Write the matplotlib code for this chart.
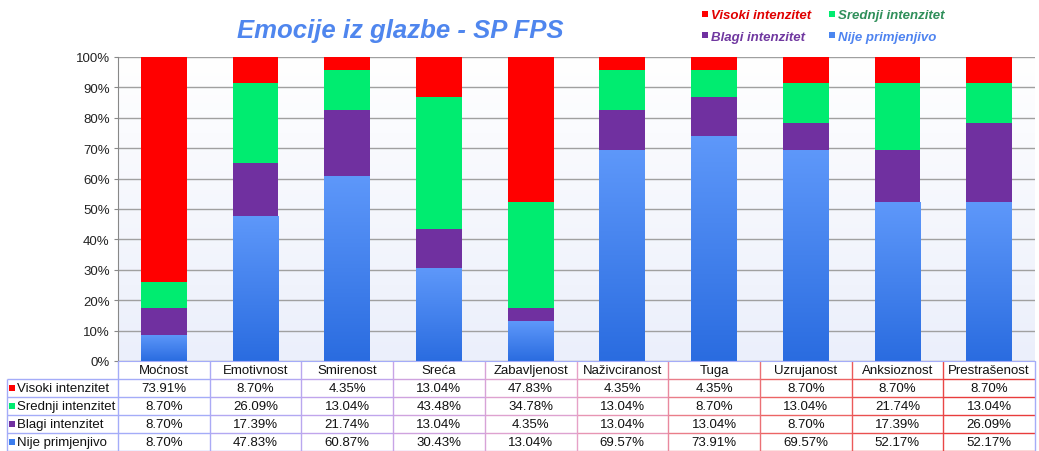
import numpy as np
import matplotlib
matplotlib.use("Agg")
import matplotlib.pyplot as plt
from matplotlib.colors import LinearSegmentedColormap
from matplotlib.collections import LineCollection
from matplotlib.lines import Line2D

# ---------------- data ----------------
categories = ["Moćnost", "Emotivnost", "Smirenost", "Sreća", "Zabavljenost",
              "Naživciranost", "Tuga", "Uzrujanost", "Anksioznost", "Prestrašenost"]
series_names = ["Visoki intenzitet", "Srednji intenzitet", "Blagi intenzitet", "Nije primjenjivo"]
visoki = [73.91, 8.70, 4.35, 13.04, 47.83, 4.35, 4.35, 8.70, 8.70, 8.70]
srednji = [8.70, 26.09, 13.04, 43.48, 34.78, 13.04, 8.70, 13.04, 21.74, 13.04]
blagi = [8.70, 17.39, 21.74, 13.04, 4.35, 13.04, 13.04, 8.70, 17.39, 26.09]
nije = [8.70, 47.83, 60.87, 30.43, 13.04, 69.57, 73.91, 69.57, 52.17, 52.17]
yticks = [0, 10, 20, 30, 40, 50, 60, 70, 80, 90, 100]
title = "Emocije iz glazbe - SP FPS"

# ---------------- style ----------------
plt.rcParams['font.family'] = ['Liberation Sans', 'DejaVu Sans']
c_red = '#FF0000'
c_green = '#00EC70'
c_purple = '#7030A0'
c_blue = '#3C7EEE'
text_colors = ['#E00000', '#2F8F5A', '#7038A0', '#4F84F0']

W, H = 1039, 452
fig = plt.figure(figsize=(W / 100, H / 100), dpi=100)
ax_l, ax_r, ax_t, ax_b = 118, 1035, 58, 362
ax = fig.add_axes([ax_l / W, 1 - ax_b / H, (ax_r - ax_l) / W, (ax_b - ax_t) / H])

x = np.arange(len(categories))
n = len(categories)

# background gradient
bg_cmap = LinearSegmentedColormap.from_list('bg', ['#EBEFFB', '#FFFFFF'])
ax.imshow(np.linspace(0, 1, 256).reshape(-1, 1), extent=[-0.5, n - 0.5, 0, 100],
          aspect='auto', cmap=bg_cmap, origin='lower', zorder=0)

ax.set_axisbelow(True)
ax.yaxis.grid(True, color='#A0A0A0', lw=1.0, zorder=1)

bw = 0.5
b0 = np.zeros(n)
blue_bars = ax.bar(x, nije, bw, bottom=b0, color=c_blue, zorder=2, lw=0)
b1 = b0 + np.array(nije)
ax.bar(x, blagi, bw, bottom=b1, color=c_purple, zorder=2, lw=0)
b2 = b1 + np.array(blagi)
ax.bar(x, srednji, bw, bottom=b2, color=c_green, zorder=2, lw=0)
b3 = b2 + np.array(srednji)
ax.bar(x, visoki, bw, bottom=b3, color=c_red, zorder=2, lw=0)

# gradient on blue bars
blue_cmap = LinearSegmentedColormap.from_list('bl', ['#2A6CE0', '#5E98FA'])
for rect in blue_bars:
    x0, y0 = rect.get_x(), rect.get_y()
    im = ax.imshow(np.linspace(0, 1, 256).reshape(-1, 1),
                   extent=[x0, x0 + rect.get_width(), y0, y0 + rect.get_height()],
                   aspect='auto', cmap=blue_cmap, origin='lower', zorder=2.1)
    im.set_clip_path(rect)

ax.set_xlim(-0.5, n - 0.5)
ax.set_ylim(0, 100)
ax.set_yticks(yticks)
ax.set_yticklabels([f"{v}%" for v in yticks], fontsize=9.5, color='#222222')
ax.set_xticks([])
ax.tick_params(axis='y', length=3, color='#888888', pad=3)
for s in ['top', 'right']:
    ax.spines[s].set_visible(False)
ax.spines['left'].set_color('#888888')
ax.spines['bottom'].set_color('#A4ACF8')

# ---------------- data table ----------------
aw = ax_r - ax_l
ah = ax_b - ax_t
def axx(px):
    return (px - ax_l) / aw
def axy(py):
    return (ax_b - py) / ah

row_h = 18
tab_left = 7
edge_cmap = LinearSegmentedColormap.from_list(
    'edge', ['#A4ACF8', '#C4A4EA', '#E6A2C8', '#EC6A6A', '#E83C3C'])

segs, cols = [], []
for r in range(1, 6):
    py = ax_b + r * row_h
    segs.append([(axx(tab_left), axy(py)), (0, axy(py))])
    cols.append(edge_cmap(0.0))
    for i in range(n):
        segs.append([(i / n, axy(py)), ((i + 1) / n, axy(py))])
        cols.append(edge_cmap(i / (n - 1)))
segs.append([(axx(tab_left), axy(ax_b + row_h)), (axx(tab_left), axy(ax_b + 5 * row_h))])
cols.append(edge_cmap(0.0))
for i in range(n + 1):
    segs.append([(i / n, 0), (i / n, axy(ax_b + 5 * row_h))])
    cols.append(edge_cmap(min(max((i - 0.5) / (n - 1), 0), 1)))
lc = LineCollection(segs, colors=cols, lw=1.0, transform=ax.transAxes, clip_on=False)
ax.add_collection(lc)

fs = 9.5
for i, c in enumerate(categories):
    ax.text((i + 0.5) / n, axy(ax_b + 0.5 * row_h), c, transform=ax.transAxes,
            ha='center', va='center', fontsize=fs, color='#111111', clip_on=False)

rows = [visoki, srednji, blagi, nije]
mcols = [c_red, c_green, c_purple, '#3C7EEE']
for r, (name, vals) in enumerate(zip(series_names, rows)):
    yc = axy(ax_b + (r + 1.5) * row_h)
    ax.plot([axx(12)], [yc], marker='s', ms=4.5, color=mcols[r], mew=0,
            transform=ax.transAxes, clip_on=False)
    ax.text(axx(17), yc, name, transform=ax.transAxes, ha='left', va='center',
            fontsize=fs, color='#111111', clip_on=False)
    for i, v in enumerate(vals):
        ax.text((i + 0.5) / n, yc, f"{v:.2f}%", transform=ax.transAxes,
                ha='center', va='center', fontsize=fs, color='#111111', clip_on=False)

# ---------------- title & legend ----------------
fig.text(400 / W, 1 - 31 / H, title, ha='center', va='center', fontsize=18.5,
         fontweight='bold', style='italic', color='#4F86EE')

handles = [Line2D([], [], ls='', marker='s', ms=4.5, mew=0, color=c)
           for c in [c_red, c_green, c_purple, '#4A86F0']]
order = [0, 2, 1, 3]
leg = fig.legend([handles[k] for k in order], [series_names[k] for k in order],
                 ncol=2, loc='center', bbox_to_anchor=(823 / W, 1 - 27 / H),
                 frameon=False, handlelength=0.6, handletextpad=0.15,
                 columnspacing=1.3, labelspacing=0.7,
                 prop={'size': 9.5, 'style': 'italic', 'weight': 'bold'})
for t, k in zip(leg.get_texts(), order):
    t.set_color(text_colors[k])

fig.savefig("out.png", dpi=100)
